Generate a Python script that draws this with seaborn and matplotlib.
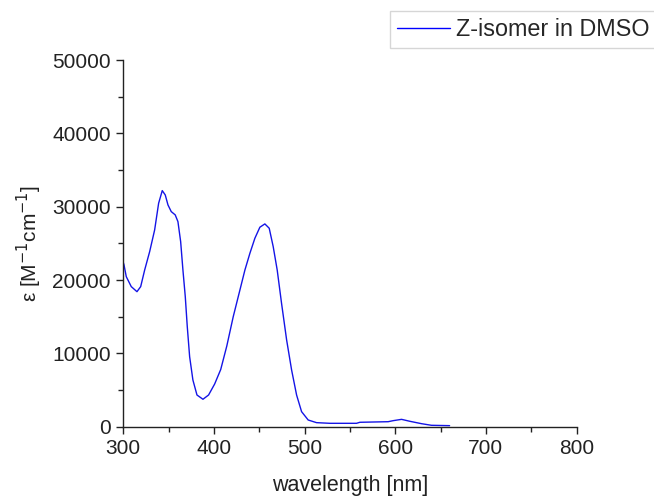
import numpy as np
import pandas as pd
import matplotlib
matplotlib.use("Agg")
import matplotlib.pyplot as plt
import seaborn as sns
from matplotlib.ticker import MultipleLocator
from matplotlib.lines import Line2D

wavelength = [300, 300.8, 303.3, 308.8, 315.1, 319.2, 323.6, 329.1, 334.6, 339, 343,
              346.3, 349.3, 352.9, 357.3, 360.3, 363.3, 365.8, 368.4, 370.6, 373.2,
              376.8, 381.3, 387.9, 394.1, 400.8, 407.5, 414.2, 421.3, 428.7, 434.2,
              439.7, 445.2, 450.7, 456.2, 461, 465.4, 469.8, 474.6, 480.2, 485.7,
              491.2, 496.7, 504, 513.2, 528, 557.3, 561, 592.2, 597.7, 607, 616, 629,
              640, 660]
epsilon = [22400, 22060, 20460, 19100, 18410, 19100, 21370, 23870, 26830, 30470, 32190,
           31600, 30240, 29330, 28880, 27960, 25230, 21370, 17730, 13640, 9550,
           6370, 4320, 3740, 4320, 5820, 7800, 11000, 15000, 18650, 21370,
           23650, 25700, 27200, 27650, 27060, 24550, 21370, 16830, 11830, 7730,
           4320, 2050, 910, 550, 460, 460, 600, 680, 820, 1000, 740, 410,
           190, 140]
series_label = "Z-isomer in DMSO"

df = pd.DataFrame({"wavelength": wavelength, "epsilon": epsilon, "series": series_label})

sns.set_style("ticks")
plt.rcParams["font.family"] = ["Liberation Sans", "DejaVu Sans"]

fig = plt.figure(figsize=(6.54, 4.98), dpi=100)
ax = fig.add_axes([0.1885, 0.1432, 0.693, 0.7363])

sns.lineplot(data=df, x="wavelength", y="epsilon", hue="series",
             palette=["#1414e6"], linewidth=1.0, ax=ax, legend=False, sort=False)

ax.set_xlim(300, 800)
ax.set_ylim(0, 50000)
ax.xaxis.set_major_locator(MultipleLocator(100))
ax.xaxis.set_minor_locator(MultipleLocator(50))
ax.yaxis.set_major_locator(MultipleLocator(10000))
ax.yaxis.set_minor_locator(MultipleLocator(5000))
ax.tick_params(which="major", direction="out", length=5, width=1, labelsize=15,
               colors="#222222", pad=4)
ax.tick_params(which="minor", direction="out", length=3.5, width=1, colors="#222222")
for s in ["top", "right"]:
    ax.spines[s].set_visible(False)
for s in ["left", "bottom"]:
    ax.spines[s].set_linewidth(1.0)
    ax.spines[s].set_color("#222222")

ax.set_xlabel("wavelength [nm]", fontsize=15.5, color="#222222", labelpad=12)
ax.set_ylabel("ε [M$^{-1}$cm$^{-1}$]", fontsize=15, color="#222222", labelpad=6)

h = [Line2D([0], [0], color="#0000ff", lw=1.0)]
leg = fig.legend(h, [series_label], loc="upper left", bbox_to_anchor=(0.596, 0.978),
                 fontsize=16.8, frameon=True, fancybox=False, handlelength=2.3,
                 handletextpad=0.25, borderpad=0.3, borderaxespad=0)
leg.get_frame().set_edgecolor("#cccccc")
leg.get_frame().set_linewidth(1.0)

fig.savefig("out.png", dpi=100)
